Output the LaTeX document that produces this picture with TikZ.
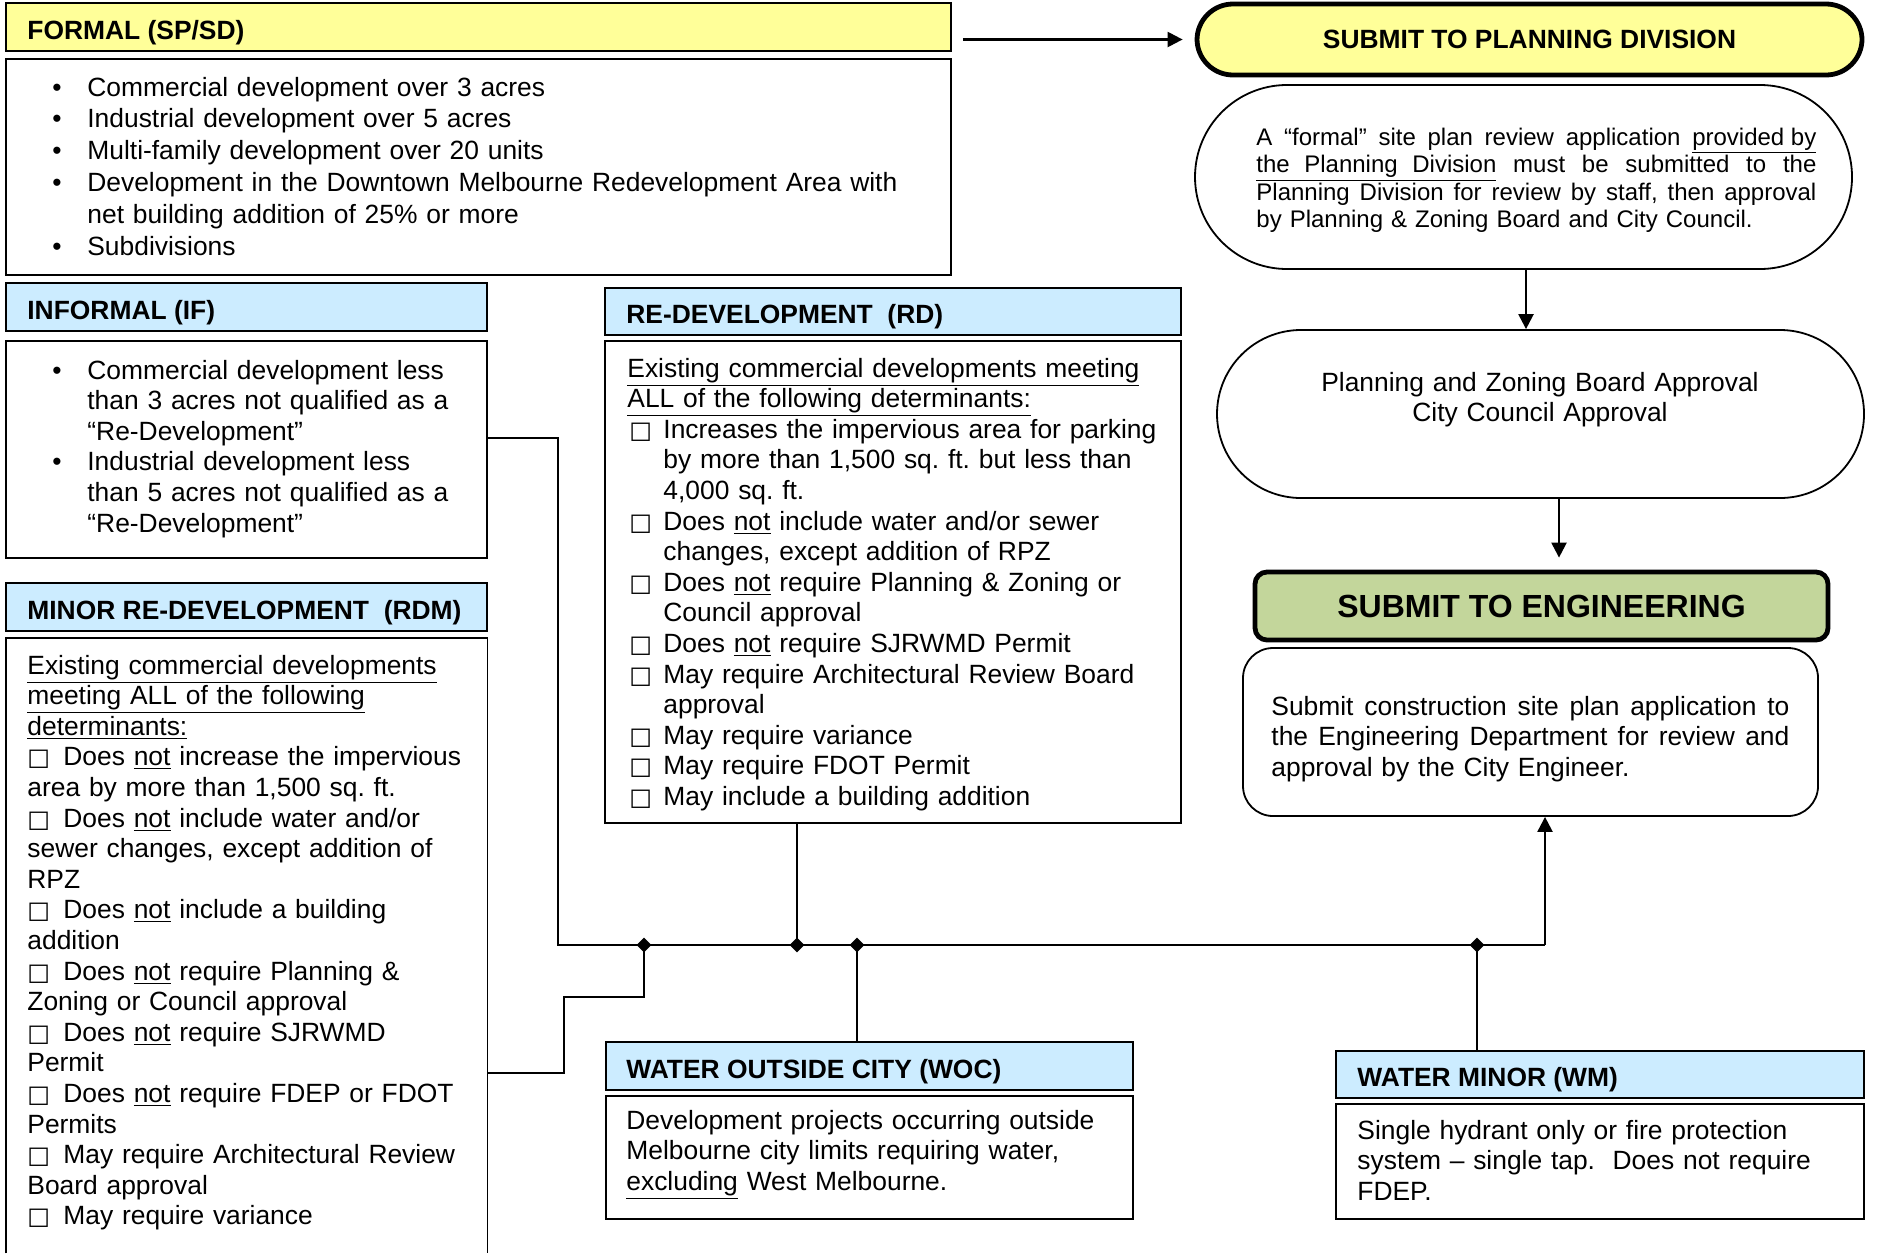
\documentclass[tikz,border=0pt]{standalone}
\usepackage{fontspec}
\setmainfont{Liberation Sans}
\newfontfamily\symf{DejaVu Sans}
\usetikzlibrary{arrows.meta,shapes.geometric,fit}
\definecolor{fyellow}{HTML}{FFFF99}
\definecolor{hblue}{HTML}{CCECFF}
\definecolor{egreen}{HTML}{C3D69B}
\frenchspacing
\newcommand\cbx{{\symf\fontsize{12}{12}\selectfont\char"25A1}}
\newcommand\bul{\makebox[17.5pt][l]{\textbullet}}
\newcommand\bulind{\hspace*{17.5pt}}
\newcommand\rdcb{\hspace*{1pt}\makebox[17pt][l]{\cbx}}
\newcommand\rdind{\hspace*{18pt}}
\newcommand\mcb{\makebox[18pt][l]{\cbx}}
\newcommand\jline[2]{\makebox[#1][s]{\spaceskip=0.278em plus 1fil\relax #2}}
\newcommand\bodyfont{\fontsize{13.2}{15.3}\selectfont}
\tikzset{
  hdrbox/.style={draw=black, line width=0.9pt, inner sep=0pt},
  bodybox/.style={draw=black, line width=0.9pt, inner sep=0pt},
  hdrtxt/.style={anchor=base west, inner sep=0pt, font=\bfseries\fontsize{13.2}{15}\selectfont},
  txt/.style={anchor=base west, inner sep=0pt, align=left, font=\bodyfont},
  conn/.style={line width=1.15pt},
  arr/.style={conn, -{Triangle[length=7.5pt,width=7.5pt]}},
  junc/.style={diamond, fill=black, inner sep=0pt, minimum size=7.5pt}
}
\begin{document}
\begin{tikzpicture}[x=0.5pt,y=-0.5pt]
\path[fill=white, use as bounding box] (0,0) rectangle (1898,1253);

% ---------- FORMAL ----------
\node[hdrbox, fill=fyellow, fit={(6,3) (951,51)}] (fh) {};
\node[hdrtxt] (fht) at (27,39) {FORMAL (SP/SD)};
\node[bodybox, fit={(6,59) (951,275)}] (fb) {};
\node[txt, text width=445pt, font=\fontsize{13.2}{15.9}\selectfont] (fbt) at (52,96) {%
\bul Commercial development over 3 acres\\
\bul Industrial development over 5 acres\\
\bul Multi-family development over 20 units\\
\bul Development in the Downtown Melbourne Redevelopment Area with\\
\bulind net building addition of 25\% or more\\
\bul Subdivisions};

% ---------- INFORMAL ----------
\node[hdrbox, fill=hblue, fit={(6,283) (487,331)}] (ifh) {};
\node[hdrtxt] (ifht) at (27,319) {INFORMAL (IF)};
\node[bodybox, fit={(6,341) (487,558)}] (ifb) {};
\node[txt, text width=215pt] (ifbt) at (52,379) {%
\bul Commercial development less\\
\bulind than 3 acres not qualified as a\\
\bulind “Re-Development”\\
\bul Industrial development less\\
\bulind than 5 acres not qualified as a\\
\bulind “Re-Development”};

% ---------- MINOR RE-DEVELOPMENT ----------
\node[hdrbox, fill=hblue, fit={(6,583) (487,631)}] (mh) {};
\node[hdrtxt] (mht) at (27,619) {MINOR RE-DEVELOPMENT\ \ (RDM)};
\node[inner sep=0pt, fit={(6,638) (487,1253)}] (mb) {};
\draw[line width=0.9pt] (mb.south west) -- (mb.north west) -- (mb.north east) -- (mb.south east);
\node[txt, text width=229pt] (mbt) at (27,674) {%
\underline{Existing commercial developments}\\
\underline{meeting ALL of the following}\\
\underline{determinants:}\\
\mcb Does \underline{not} increase the impervious\\
area by more than 1,500 sq. ft.\\
\mcb Does \underline{not} include water and/or\\
sewer changes, except addition of\\
RPZ\\
\mcb Does \underline{not} include a building\\
addition\\
\mcb Does \underline{not} require Planning \&\\
Zoning or Council approval\\
\mcb Does \underline{not} require SJRWMD\\
Permit\\
\mcb Does \underline{not} require FDEP or FDOT\\
Permits\\
\mcb May require Architectural Review\\
Board approval\\
\mcb May require variance};

% ---------- RE-DEVELOPMENT ----------
\node[hdrbox, fill=hblue, fit={(605,288) (1181,335)}] (rdh) {};
\node[hdrtxt] (rdht) at (626,323) {RE-DEVELOPMENT\ \ (RD)};
\node[bodybox, fit={(605,341) (1181,823)}] (rdb) {};
\node[txt, text width=275pt] (rdbt) at (627,377) {%
\underline{Existing commercial developments meeting}\\
\underline{ALL of the following determinants:}\\
\rdcb Increases the impervious area for parking\\
\rdind by more than 1,500 sq. ft. but less than\\
\rdind 4,000 sq. ft.\\
\rdcb Does \underline{not} include water and/or sewer\\
\rdind changes, except addition of RPZ\\
\rdcb Does \underline{not} require Planning \& Zoning or\\
\rdind Council approval\\
\rdcb Does \underline{not} require SJRWMD Permit\\
\rdcb May require Architectural Review Board\\
\rdind approval\\
\rdcb May require variance\\
\rdcb May require FDOT Permit\\
\rdcb May include a building addition};

% ---------- WATER OUTSIDE CITY ----------
\node[hdrbox, fill=hblue, fit={(606,1042) (1133,1090)}] (woch) {};
\node[hdrtxt] (wocht) at (626,1078) {WATER OUTSIDE CITY (WOC)};
\node[bodybox, fit={(606,1096) (1133,1219)}] (wocb) {};
\node[txt, text width=250pt] (wocbt) at (626,1129) {%
Development projects occurring outside\\
Melbourne city limits requiring water,\\
\underline{excluding} West Melbourne.};

% ---------- WATER MINOR ----------
\node[hdrbox, fill=hblue, fit={(1336,1051) (1864,1098)}] (wmh) {};
\node[hdrtxt] (wmht) at (1357,1086) {WATER MINOR (WM)};
\node[bodybox, fit={(1336,1104) (1864,1219)}] (wmb) {};
\node[txt, text width=250pt] (wmbt) at (1357,1139) {%
Single hydrant only or fire protection\\
system – single tap.\ \ Does not require\\
FDEP.};

% ---------- RIGHT COLUMN ----------
\node[draw=black, line width=2.4pt, fill=fyellow, rounded corners=18pt, inner sep=0pt,
      fit={(1197,4) (1862,75)}] (spd) {};
\node[font=\bfseries\fontsize{13.2}{15}\selectfont, inner sep=0pt] (spdt) at (spd.center) {SUBMIT TO PLANNING DIVISION};

\node[draw=black, line width=0.9pt, rounded corners=46pt, inner sep=0pt,
      fit={(1195,85) (1852,269)}] (ptx) {};
\node[txt, text width=282pt, font=\fontsize{12}{13.8}\selectfont] (ptxt) at (1256,145) {%
\jline{280pt}{A “formal” site plan review application \underline{provided by}}\\
\jline{280pt}{\underline{\jline{120pt}{the Planning Division}} must be submitted to the}\\
\jline{280pt}{Planning Division for review by staff, then approval}\\
by Planning \& Zoning Board and City Council.};

\node[draw=black, line width=0.9pt, rounded corners=42pt, inner sep=0pt,
      fit={(1217,330) (1864,498)}] (pz) {};
\node[anchor=base, inner sep=0pt, align=center, text width=300pt, font=\bodyfont] (pzt) at (1540,391) {%
Planning and Zoning Board Approval\\City Council Approval};

\node[draw=black, line width=2.4pt, fill=egreen, rounded corners=6pt, inner sep=0pt,
      fit={(1255,572) (1828,640)}] (ste) {};
\node[font=\bfseries\fontsize{16}{18}\selectfont, inner sep=0pt] (stet) at (ste.center) {SUBMIT TO ENGINEERING};

\node[draw=black, line width=0.9pt, rounded corners=15pt, inner sep=0pt,
      fit={(1243,648) (1818,816)}] (engb) {};
\node[txt, text width=265pt] (engt) at (1271,715) {%
\jline{259pt}{Submit construction site plan application to}\\
\jline{259pt}{the Engineering Department for review and}\\
approval by the City Engineer.};

% ---------- CONNECTORS ----------
\coordinate (busL) at (558,945);
\coordinate (busR) at (1545,945);
\node[junc] (j1) at (644,945) {};
\node[junc] (j2) at (797,945) {};
\node[junc] (j3) at (857,945) {};
\node[junc] (j4) at (1477,945) {};

\draw[conn] (ifb.east |- 0,438) -| (busL) -- (busR);
\draw[arr] (busR) -- (busR |- engb.south);
\draw[conn] (mb.east |- 0,1073) -| (564,997) -| (j1.center);
\draw[conn] (rdb.south -| j2) -- (j2.center);
\draw[conn] (woch.north -| j3) -- (j3.center);
\draw[conn] (wmh.north -| j4) -- (j4.center);

\coordinate (fa) at (fh.east |- spd.west);
\draw[arr, shorten <=5.5pt, shorten >=6pt] (fa) -- (spd.west);
\draw[arr] (ptx.south -| 1526,0) -- (pz.north -| 1526,0);
\draw[arr, shorten >=6pt] (pz.south -| 1559,0) -- (ste.north -| 1559,0);
\end{tikzpicture}
\end{document}
